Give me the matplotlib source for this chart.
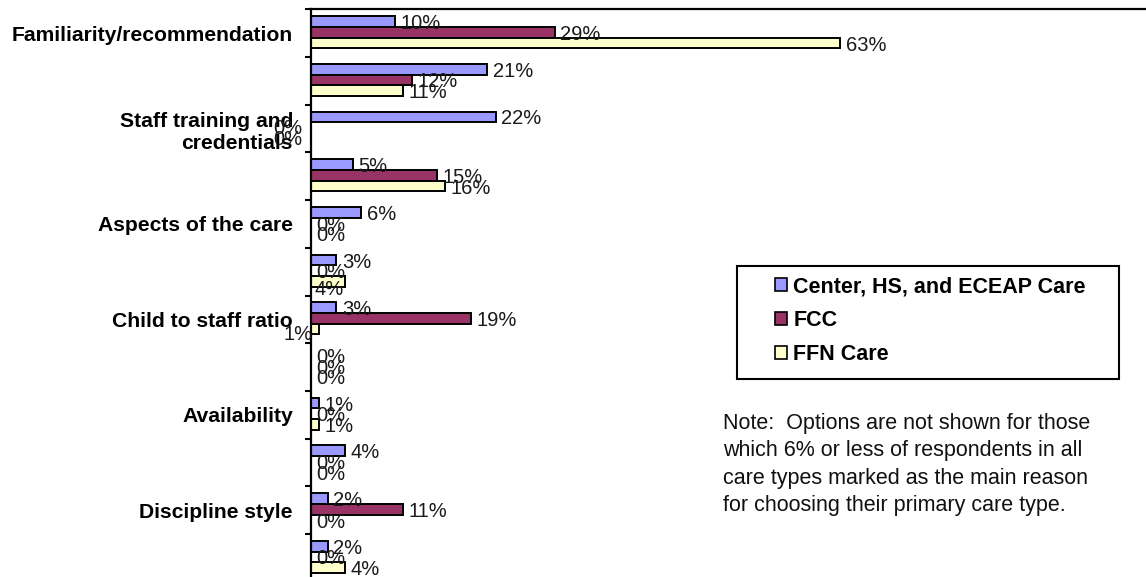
import matplotlib
matplotlib.use("Agg")
import matplotlib.pyplot as plt
from matplotlib.patches import Patch, Rectangle
import numpy as np

plt.rcParams['font.family'] = ['Liberation Sans', 'DejaVu Sans']

# Excel only printed every second category name
categories = [
    "Familiarity/recommendation", "",
    "Staff training and\ncredentials", "",
    "Aspects of the care", "",
    "Child to staff ratio", "",
    "Availability", "",
    "Discipline style", "",
]
series_names = ["Center, HS, and ECEAP Care", "FCC", "FFN Care"]
center_vals = [10, 21, 22, 5, 6, 3, 3, 0, 1, 4, 2, 2]
fcc_vals = [29, 12, 0, 15, 0, 0, 19, 0, 0, 0, 11, 0]
ffn_vals = [63, 11, 0, 16, 0, 4, 1, 0, 1, 0, 0, 4]
colors = ["#9999FF", "#993366", "#FFFFCC"]

note = ("Note:  Options are not shown for those\n"
        "which 6% or less of respondents in all\n"
        "care types marked as the main reason\n"
        "for choosing their primary care type.")

# labels Excel shoved somewhere else to dodge collisions: (group, series) -> (dx, dy, ha) in points
label_moves = {
    (2, 1): (-6, -1, 'right'),
    (2, 2): (-6, -1, 'right'),
    (5, 2): (-22, -6, 'left'),
    (6, 2): (-5, -4, 'right'),
}

W, H = 1146, 577
fig = plt.figure(figsize=(W / 100, H / 100), dpi=100)
ax = fig.add_axes([311 / W, 1 - 581.7 / H, 840 / W, 572.4 / H])

y = np.arange(len(categories))
bar_h = 0.224
offsets = [-0.245, -0.02, 0.205]
all_vals = [center_vals, fcc_vals, ffn_vals]

label_font = ['Liberation Sans Narrow', 'Liberation Sans']
for s, (vals, col, name) in enumerate(zip(all_vals, colors, series_names)):
    bars = ax.barh(y + offsets[s], vals, height=bar_h, color=col,
                   edgecolor='black', linewidth=1.4, label=name)
    for g, (b, v) in enumerate(zip(bars, vals)):
        dx, dy, ha = label_moves.get((g, s), (4, -1.5, 'left'))
        ax.annotate(f"{v}%", (v, b.get_y() + bar_h / 2), xytext=(dx, dy),
                    textcoords='offset points', ha=ha, va='center',
                    fontsize=14.5, family=label_font, color='#1a1a1a')

ax.set_xlim(0, 100)
ax.set_ylim(len(categories) - 0.5, -0.5)
ax.set_xticks([])
ax.set_yticks(y)
ax.set_yticklabels(categories, fontsize=15.2, fontweight='bold')
ax.set_yticks(np.arange(len(categories) + 1) - 0.5, minor=True)
ax.tick_params(axis='y', which='major', length=0, pad=13)
ax.tick_params(axis='y', which='minor', length=4.5, width=1.5, direction='out')
for side in ['right', 'bottom']:
    ax.spines[side].set_visible(False)
for side in ['left', 'top']:
    ax.spines[side].set_linewidth(1.6)

# legend content without its own frame, box drawn to the Excel size
handles = [Patch(facecolor=c, edgecolor='black', linewidth=1.2) for c in colors]
fig.legend(handles, series_names, loc='upper left',
           bbox_to_anchor=(775 / W, 1 - 276 / H), frameon=False,
           borderpad=0, borderaxespad=0, handlelength=0.55, handleheight=0.55,
           handletextpad=0.3, labelspacing=0.6,
           prop={'size': 15.5, 'weight': 'bold'})
fig.patches.append(Rectangle((736.7 / W, 1 - 379.3 / H), (1119 - 736.7) / W,
                             (379.3 - 265.7) / H, transform=fig.transFigure,
                             fill=False, edgecolor='black', linewidth=1.5))

fig.text(723 / W, 1 - 413 / H, note, fontsize=15.5, va='top', ha='left',
         linespacing=1.4, color='#111111')

fig.savefig("out.png", dpi=100)
